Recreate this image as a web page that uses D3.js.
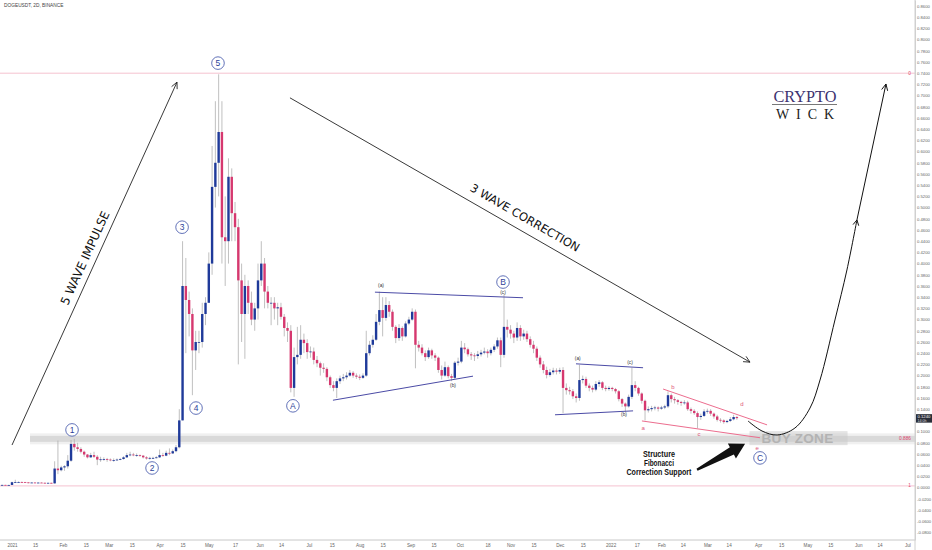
<!DOCTYPE html>
<html>
<head>
<meta charset="utf-8">
<script src="https://cdn.jsdelivr.net/npm/d3@7/dist/d3.min.js"></script>
<style>
html,body{margin:0;padding:0;background:#fff;}
svg{display:block;}
</style>
</head>
<body>
<svg id="chart" width="932" height="550"></svg>
<script>
// ================= DATA =================
const symbolTitle = "DOGEUSDT, 2D, BINANCE";
const firstBarDate = "2020-12-24"; // 2-day candles, open = previous close
const closes = [
0.0045,0.0048,0.0047,0.0047,0.0096,0.0098,0.0100,0.0097,0.0093,0.0087,
0.0090,0.0088,0.0089,0.0086,0.0083,0.0085,0.0075,0.034,0.031,0.036,
0.038,0.048,0.078,0.072,0.069,0.064,0.059,0.054,0.058,0.055,
0.050,0.0505,0.051,0.050,0.049,0.049,0.050,0.051,0.054,0.058,
0.059,0.058,0.058,0.057,0.054,0.052,0.053,0.053,0.054,0.058,
0.057,0.062,0.061,0.065,0.072,0.120,0.360,0.335,0.310,0.245,
0.260,0.260,0.310,0.330,0.400,0.537,0.580,0.635,0.447,0.440,
0.555,0.490,0.465,0.370,0.310,0.360,0.330,0.300,0.320,0.370,
0.400,0.350,0.330,0.330,0.320,0.322,0.305,0.285,0.280,0.178,
0.233,0.237,0.264,0.258,0.242,0.243,0.228,0.222,0.214,0.212,
0.197,0.183,0.178,0.190,0.195,0.197,0.200,0.205,0.200,0.198,
0.196,0.200,0.240,0.255,0.264,0.296,0.317,0.303,0.326,0.314,
0.287,0.267,0.285,0.270,0.293,0.300,0.314,0.255,0.250,0.240,
0.233,0.245,0.236,0.232,0.210,0.200,0.215,0.199,0.196,0.223,
0.225,0.250,0.247,0.238,0.236,0.235,0.238,0.241,0.243,0.240,
0.246,0.252,0.263,0.237,0.287,0.282,0.275,0.268,0.285,0.270,
0.275,0.265,0.255,0.248,0.232,0.220,0.210,0.201,0.206,0.209,
0.207,0.210,0.178,0.174,0.172,0.163,0.160,0.192,0.194,0.182,
0.178,0.175,0.185,0.188,0.178,0.176,0.178,0.176,0.172,0.158,
0.150,0.145,0.162,0.183,0.178,0.168,0.155,0.138,0.140,0.142,
0.143,0.141,0.143,0.145,0.165,0.158,0.156,0.153,0.151,0.152,
0.140,0.137,0.133,0.126,0.128,0.136,0.137,0.132,0.127,0.121,
0.120,0.117,0.119,0.122,0.126,0.124];
const highs = [
0.0047,0.0051,0.0050,0.0049,0.0105,0.0140,0.0110,0.0108,0.0102,0.0095,
0.0095,0.0094,0.0093,0.0092,0.0088,0.0088,0.0087,0.047,0.084,0.039,
0.040,0.058,0.085,0.087,0.080,0.072,0.066,0.060,0.062,0.064,
0.058,0.055,0.054,0.053,0.052,0.052,0.052,0.053,0.056,0.062,
0.064,0.062,0.061,0.059,0.058,0.056,0.055,0.055,0.056,0.068,
0.062,0.066,0.070,0.068,0.076,0.140,0.440,0.410,0.350,0.320,
0.280,0.280,0.330,0.340,0.420,0.610,0.690,0.738,0.690,0.520,
0.588,0.570,0.510,0.480,0.400,0.380,0.370,0.350,0.330,0.400,
0.440,0.410,0.360,0.340,0.340,0.330,0.330,0.310,0.295,0.290,
0.250,0.287,0.290,0.275,0.265,0.252,0.250,0.235,0.225,0.222,
0.215,0.200,0.190,0.195,0.200,0.203,0.206,0.210,0.208,0.204,
0.202,0.204,0.280,0.262,0.272,0.310,0.350,0.340,0.340,0.333,
0.318,0.290,0.292,0.288,0.297,0.305,0.320,0.318,0.262,0.256,
0.245,0.250,0.248,0.240,0.234,0.218,0.225,0.218,0.203,0.226,
0.232,0.262,0.258,0.250,0.242,0.240,0.244,0.246,0.250,0.247,
0.250,0.256,0.268,0.268,0.345,0.300,0.290,0.280,0.295,0.290,
0.282,0.280,0.270,0.262,0.252,0.236,0.226,0.216,0.212,0.214,
0.213,0.214,0.215,0.186,0.180,0.176,0.168,0.219,0.200,0.198,
0.186,0.182,0.190,0.192,0.190,0.182,0.181,0.180,0.178,0.174,
0.160,0.152,0.166,0.214,0.190,0.180,0.170,0.157,0.145,0.146,
0.146,0.145,0.146,0.148,0.172,0.168,0.162,0.158,0.155,0.156,
0.155,0.143,0.140,0.136,0.132,0.140,0.141,0.140,0.134,0.130,
0.124,0.122,0.121,0.126,0.130,0.128];
const lows = [
0.0043,0.0044,0.0045,0.0044,0.0046,0.0085,0.0089,0.0088,0.0088,0.0076,
0.0084,0.0082,0.0084,0.0081,0.0073,0.0081,0.0072,0.0071,0.024,0.029,
0.030,0.034,0.046,0.066,0.064,0.061,0.055,0.052,0.053,0.053,
0.040,0.046,0.048,0.046,0.047,0.046,0.048,0.049,0.050,0.053,
0.056,0.056,0.055,0.055,0.052,0.050,0.050,0.051,0.052,0.053,
0.055,0.056,0.058,0.060,0.063,0.070,0.120,0.240,0.270,0.165,
0.210,0.240,0.250,0.290,0.330,0.380,0.500,0.520,0.400,0.360,
0.400,0.440,0.440,0.220,0.260,0.230,0.310,0.290,0.280,0.300,
0.360,0.320,0.320,0.290,0.300,0.290,0.300,0.270,0.260,0.170,
0.162,0.220,0.230,0.240,0.230,0.232,0.220,0.215,0.200,0.205,
0.190,0.178,0.172,0.160,0.185,0.190,0.193,0.198,0.196,0.194,
0.192,0.194,0.198,0.236,0.250,0.262,0.290,0.270,0.298,0.305,
0.280,0.258,0.262,0.262,0.268,0.290,0.298,0.213,0.243,0.236,
0.226,0.230,0.230,0.226,0.205,0.193,0.198,0.195,0.190,0.194,
0.218,0.222,0.240,0.234,0.228,0.226,0.230,0.234,0.238,0.232,
0.236,0.242,0.248,0.215,0.232,0.268,0.266,0.258,0.262,0.262,
0.264,0.260,0.250,0.240,0.226,0.214,0.204,0.195,0.198,0.202,
0.202,0.203,0.133,0.166,0.166,0.158,0.152,0.155,0.186,0.178,
0.172,0.170,0.172,0.180,0.174,0.172,0.173,0.172,0.168,0.154,
0.144,0.135,0.143,0.158,0.172,0.164,0.150,0.120,0.134,0.136,
0.138,0.136,0.139,0.140,0.142,0.152,0.150,0.148,0.146,0.148,
0.137,0.132,0.130,0.106,0.121,0.126,0.132,0.128,0.123,0.118,
0.116,0.114,0.115,0.117,0.120,0.121];

const yTickValues = [0.86,0.84,0.82,0.80,0.78,0.76,0.74,0.72,0.70,0.68,0.66,0.64,0.62,0.60,0.58,0.56,0.54,0.52,0.50,0.48,0.46,0.44,0.42,0.40,0.38,0.36,0.34,0.32,0.30,0.28,0.26,0.24,0.22,0.20,0.18,0.16,0.14,0.10,0.08,0.06,0.04,0.02,0.00,-0.02,-0.04,-0.06,-0.08];
const xTickDates = ["2021-01-01","2021-01-15","2021-02-01","2021-02-15","2021-03-01","2021-03-15","2021-04-01","2021-04-15","2021-05-01","2021-05-17","2021-06-01","2021-06-14","2021-07-01","2021-07-15","2021-08-01","2021-08-15","2021-09-01","2021-09-15","2021-10-01","2021-10-18","2021-11-01","2021-11-15","2021-12-01","2021-12-15","2022-01-01","2022-01-17","2022-02-01","2022-02-14","2022-03-01","2022-03-14","2022-04-01","2022-04-15","2022-05-01","2022-05-15","2022-06-01","2022-06-14","2022-07-01"];
const xTickLabels = ["2021","15","Feb","15","Mar","15","Apr","15","May","17","Jun","14","Jul","15","Aug","15","Sep","15","Oct","18","Nov","15","Dec","15","2022","17","Feb","14","Mar","14","Apr","15","May","15","Jun","14","Jul"];

// Fibonacci retracement (0 at top, 1 at bottom)
const fibTop = 0.74, fibBottom = 0.003;
const fibLevels = [{lv:0, txt:"0"}, {lv:0.886, txt:"0.886"}, {lv:1, txt:"1"}];

// annotations: [day offset from 2021-01-01, price]
const waveLabels = [
  {t:"1", d:36.6, p:0.103}, {t:"2", d:85.4, p:0.035}, {t:"3", d:103.7, p:0.465},
  {t:"4", d:112.2, p:0.142}, {t:"5", d:125.6, p:0.758}, {t:"A", d:171.3, p:0.146},
  {t:"B", d:299.4, p:0.367}, {t:"C", d:456.1, p:0.053}];
const impulseArrow = [[0,0.076],[100.6,0.724]];
const impulseText = {t:"5 WAVE IMPULSE", d:44.5, p:0.41};
const correctionArrow = [[169.5,0.696],[450,0.224]];
const correctionText = {t:"3 WAVE CORRECTION", d:312.8, p:0.482};
const projectionCurve = [[448.8,0.1189],[457.3,0.1011],[466.5,0.0939],[477.4,0.1064],[486.6,0.1421],[492.7,0.1921],[501.8,0.2993],[509.1,0.3886],[515.2,0.4779]];
const projectionLine = [[515.2,0.4779],[532.9,0.7207]];
const blueLines = [
  [[221.3,0.349],[311.6,0.339]], [[195.7,0.156],[281.1,0.199]],
  [[343.9,0.221],[384.8,0.214]], [[331.1,0.130],[378.7,0.137]]];
const blueLetters = [
  {t:"(a)", d:225, p:0.360}, {t:"(b)", d:268.9, p:0.183}, {t:"(c)", d:299.4, p:0.348},
  {t:"(a)", d:345, p:0.230}, {t:"(b)", d:373.2, p:0.131}, {t:"(c)", d:376.8, p:0.223}];
const redLines = [[[397,0.176],[460.4,0.112]], [[384.1,0.119],[456.1,0.089]]];
const redLetters = [
  {t:"a", d:384.8, p:0.106}, {t:"b", d:403, p:0.180}, {t:"c", d:418.9, p:0.096},
  {t:"d", d:445.1, p:0.150}, {t:"e", d:454.3, p:0.070}];
const supportArrow = [[417.7,0.0318],[447,0.0782]];
const supportText = ["Structure","Fibonacci","Correction Support"];
const supportTextPos = {d:394.5, p:0.0545};
const buyZone = {t:"BUY ZONE", d:468, p:0.0883};

// ================= DRAW =================
const svg = d3.select("#chart");
const W = 932, H = 550, plotR = 915, plotB = 540;
const DAY = 864e5, T0 = Date.UTC(2021,0,1);
const dd = d => new Date(T0 + d*DAY);
const x = d3.scaleUtc().domain([new Date("2020-12-24T16:20:00Z"), new Date("2022-07-05T14:40:00Z")]).range([0, plotR]);
const y = d3.scaleLinear().domain([-0.0936, 0.8707]).range([plotB, 0]);
const X = d => x(dd(d)), Y = p => y(p);

svg.append("rect").attr("width",W).attr("height",H).attr("fill","#fff");

const plot = svg.append("g");
plot.append("clipPath").attr("id","clip").append("rect").attr("width",plotR).attr("height",plotB);
const g = plot.append("g").attr("clip-path","url(#clip)");

// fib lines
const fibPrice = lv => fibTop - lv*(fibTop - fibBottom);
g.append("rect").attr("x",30).attr("width",plotR-30).attr("y",Y(fibPrice(0.886))-5.5).attr("height",11).attr("fill","#f0f0f0");
g.append("rect").attr("x",30).attr("width",plotR-30).attr("y",Y(fibPrice(0.886))-3).attr("height",6).attr("fill","#d9d9d9");
fibLevels.forEach(f=>{
  if (f.lv !== 0.886) {
    g.append("line").attr("x1",0).attr("x2",plotR).attr("y1",Y(fibPrice(f.lv))).attr("y2",Y(fibPrice(f.lv)))
      .attr("stroke","#f3b3c4").attr("stroke-width",0.8);
  }
  svg.append("text").attr("x",911).attr("y",Y(fibPrice(f.lv))+1.5).attr("text-anchor","end")
    .attr("font-family","Liberation Sans, Arial, sans-serif").attr("font-size",4.8).attr("fill","#e0456f").text(f.txt);
});

// BUY ZONE highlight
g.append("rect").attr("x",X(buyZone.d)-30).attr("width",98).attr("y",Y(buyZone.p)-7).attr("height",14)
  .attr("fill","#c9c9c9").attr("opacity",0.5);
g.append("text").attr("x",X(buyZone.d)+18).attr("y",Y(buyZone.p)+5).attr("text-anchor","middle")
  .attr("font-family","Liberation Sans, Arial, sans-serif").attr("font-weight","bold").attr("font-size",13.5)
  .attr("fill","#b3b3b3").attr("letter-spacing",0.3).text(buyZone.t);

// candles
const start = new Date(firstBarDate + "T00:00:00Z");
const bars = closes.map((c,i)=>({
  t: d3.utcDay.offset(start, 2*i),
  o: i===0 ? lows[0] + (highs[0]-lows[0])/2 : closes[i-1],
  h: highs[i], l: lows[i], c: c
}));
const UP = "#1f3a9a", DN = "#d6386f", WICK = "#b0b0b0";
const bw = 2.4;
g.selectAll("line.wick").data(bars).join("line").attr("class","wick")
  .attr("x1",d=>x(d.t)).attr("x2",d=>x(d.t)).attr("y1",d=>y(d.h)).attr("y2",d=>y(d.l))
  .attr("stroke",WICK).attr("stroke-width",0.8);
g.selectAll("rect.body").data(bars).join("rect").attr("class","body")
  .attr("x",d=>x(d.t)-bw/2).attr("width",bw)
  .attr("y",d=>y(Math.max(d.o,d.c)))
  .attr("height",d=>Math.max(0.8, Math.abs(y(d.o)-y(d.c))))
  .attr("fill",d=>d.c>=d.o?UP:DN);

// triangle lines
blueLines.forEach(L=>{
  g.append("line").attr("x1",X(L[0][0])).attr("y1",Y(L[0][1])).attr("x2",X(L[1][0])).attr("y2",Y(L[1][1]))
    .attr("stroke","#4b4ba6").attr("stroke-width",1);
});
blueLetters.forEach(l=>{
  g.append("text").attr("x",X(l.d)).attr("y",Y(l.p)+1.5).attr("text-anchor","middle")
    .attr("font-family","Liberation Sans, Arial, sans-serif").attr("font-size",4.8).attr("fill","#333").text(l.t);
});
redLines.forEach(L=>{
  g.append("line").attr("x1",X(L[0][0])).attr("y1",Y(L[0][1])).attr("x2",X(L[1][0])).attr("y2",Y(L[1][1]))
    .attr("stroke","#ec6d8e").attr("stroke-width",1);
});
redLetters.forEach(l=>{
  g.append("text").attr("x",X(l.d)).attr("y",Y(l.p)+2).attr("text-anchor","middle")
    .attr("font-family","Liberation Sans, Arial, sans-serif").attr("font-size",6).attr("fill","#e0577b").text(l.t);
});

// arrow helper
function arrowHead(p1, p2, len, spread) {
  const a = Math.atan2(p2[1]-p1[1], p2[0]-p1[0]);
  const l1 = [p2[0]-len*Math.cos(a-spread), p2[1]-len*Math.sin(a-spread)];
  const l2 = [p2[0]-len*Math.cos(a+spread), p2[1]-len*Math.sin(a+spread)];
  return `M${l1[0]},${l1[1]}L${p2[0]},${p2[1]}L${l2[0]},${l2[1]}`;
}
function drawArrow(pts, color, w) {
  const P = pts.map(p=>[X(p[0]),Y(p[1])]);
  g.append("path").attr("d", d3.line()(P)).attr("fill","none").attr("stroke",color).attr("stroke-width",w);
  g.append("path").attr("d", arrowHead(P[P.length-2], P[P.length-1], 7, 0.45)).attr("fill","none").attr("stroke",color).attr("stroke-width",w);
  return P;
}
const pI = drawArrow(impulseArrow, "#222", 0.9);
const pC = drawArrow(correctionArrow, "#222", 0.9);
function rotText(t, P, cfg, size) {
  const ang = Math.atan2(P[1][1]-P[0][1], P[1][0]-P[0][0]) * 180/Math.PI;
  const cx = X(cfg.d), cy = Y(cfg.p);
  g.append("text").attr("transform",`translate(${cx},${cy}) rotate(${ang})`).attr("text-anchor","middle")
    .attr("dy","0.35em").attr("font-family","DejaVu Sans, Verdana, sans-serif").attr("font-size",size)
    .attr("fill","#111").text(t);
}
rotText(impulseText.t, pI, impulseText, 12);
rotText(correctionText.t, pC, correctionText, 11.5);

// projection curve + line
const PC = projectionCurve.map(p=>[X(p[0]),Y(p[1])]);
g.append("path").attr("d", d3.line().curve(d3.curveCatmullRom)(PC)).attr("fill","none").attr("stroke","#111").attr("stroke-width",1);
g.append("path").attr("d", arrowHead(PC[PC.length-2], PC[PC.length-1], 6, 0.5)).attr("fill","none").attr("stroke","#111").attr("stroke-width",1);
drawArrow(projectionLine, "#111", 1);

// support arrow (filled, thick)
(function(){
  const a = [X(supportArrow[0][0]), Y(supportArrow[0][1])];
  const b = [X(supportArrow[1][0]), Y(supportArrow[1][1])];
  const dx = b[0]-a[0], dy = b[1]-a[1], L = Math.hypot(dx,dy);
  const ux = dx/L, uy = dy/L, nx = -uy, ny = ux;
  const hl = 15, hw = 8.5, tw = 1.2, sw = 4.2;
  const bx = b[0]-ux*hl, by = b[1]-uy*hl;
  const pts = [
    [a[0]+nx*tw, a[1]+ny*tw], [bx+nx*sw, by+ny*sw], [bx+nx*hw, by+ny*hw], b,
    [bx-nx*hw, by-ny*hw], [bx-nx*sw, by-ny*sw], [a[0]-nx*tw, a[1]-ny*tw]];
  g.append("path").attr("d", d3.line()(pts)+"Z").attr("fill","#111");
})();
supportText.forEach((t,i)=>{
  const widths = [32, 30, 65];
  g.append("text").attr("x",X(supportTextPos.d)).attr("y",Y(supportTextPos.p)+i*9.2)
    .attr("text-anchor","middle").attr("font-family","Liberation Sans, Arial, sans-serif").attr("font-weight","bold")
    .attr("font-size",8.6).attr("fill","#111").attr("textLength",widths[i]).attr("lengthAdjust","spacingAndGlyphs").text(t);
});

// wave circles
waveLabels.forEach(w=>{
  const cx = X(w.d), cy = Y(w.p);
  g.append("circle").attr("cx",cx).attr("cy",cy).attr("r",6.3).attr("fill","#fff").attr("stroke","#3a4ea6").attr("stroke-width",0.8);
  g.append("text").attr("x",cx).attr("y",cy+3).attr("text-anchor","middle").attr("font-family","Liberation Sans, Arial, sans-serif")
    .attr("font-size",8.5).attr("fill","#2d3f99").text(w.t);
});

// logo
const logo = svg.append("g").attr("transform","translate(805,0)");
logo.append("text").attr("x",0).attr("y",102).attr("text-anchor","middle").attr("font-family","Liberation Serif, DejaVu Serif, serif")
  .attr("font-size",17).attr("fill","#3d3270").attr("textLength",63).attr("lengthAdjust","spacingAndGlyphs").text("CRYPTO");
logo.append("line").attr("x1",-33).attr("x2",32).attr("y1",104.5).attr("y2",104.5).attr("stroke","#555").attr("stroke-width",0.8);
logo.append("text").attr("x",0).attr("y",119).attr("text-anchor","middle").attr("font-family","Liberation Serif, DejaVu Serif, serif")
  .attr("font-size",14).attr("fill","#222").attr("textLength",58).attr("lengthAdjust","spacing").text("WICK");

// header
svg.append("text").attr("x",4).attr("y",7).attr("font-family","Liberation Sans, Arial, sans-serif").attr("font-size",4.8)
  .attr("fill","#444").text(symbolTitle);

// axes
const fmt = v => (v < 0 ? "-" : "") + Math.abs(v).toFixed(4);
const yAxis = svg.append("g").attr("transform",`translate(${plotR},0)`)
  .call(d3.axisRight(y).tickValues(yTickValues).tickFormat(fmt).tickSize(0).tickPadding(2));
yAxis.select(".domain").attr("stroke","#d0d0d0");
yAxis.selectAll("text").attr("font-family","Liberation Sans, Arial, sans-serif").attr("font-size",4.2).attr("fill","#666");

const xAxis = svg.append("g").attr("transform",`translate(0,${plotB})`)
  .call(d3.axisBottom(x).tickValues(xTickDates.map(s=>new Date(s+"T00:00:00Z"))).tickFormat((d,i)=>xTickLabels[i]).tickSize(0).tickPadding(4));
xAxis.select(".domain").attr("stroke","#c8c8c8").attr("d",`M0,0H${plotR}`);
xAxis.selectAll("text").attr("font-family","Liberation Sans, Arial, sans-serif").attr("font-size",4.6).attr("fill","#666");
svg.append("line").attr("x1",plotR).attr("x2",plotR).attr("y1",0).attr("y2",H).attr("stroke","#d0d0d0").attr("stroke-width",1);

// last price box
const last = closes[closes.length-1];
const ly = y(last);
svg.append("rect").attr("x",plotR+1).attr("y",ly-4).attr("width",W-plotR-1).attr("height",8.5).attr("fill","#2a2e39");
svg.append("text").attr("x",plotR+2.5).attr("y",ly-0.2).attr("font-family","Liberation Sans, Arial, sans-serif").attr("font-size",4.2).attr("fill","#fff").text(last.toFixed(4));
svg.append("text").attr("x",plotR+2.5).attr("y",ly+3.6).attr("font-family","Liberation Sans, Arial, sans-serif").attr("font-size",3.6).attr("fill","#ddd").text("14:0h");
</script>
</body>
</html>
